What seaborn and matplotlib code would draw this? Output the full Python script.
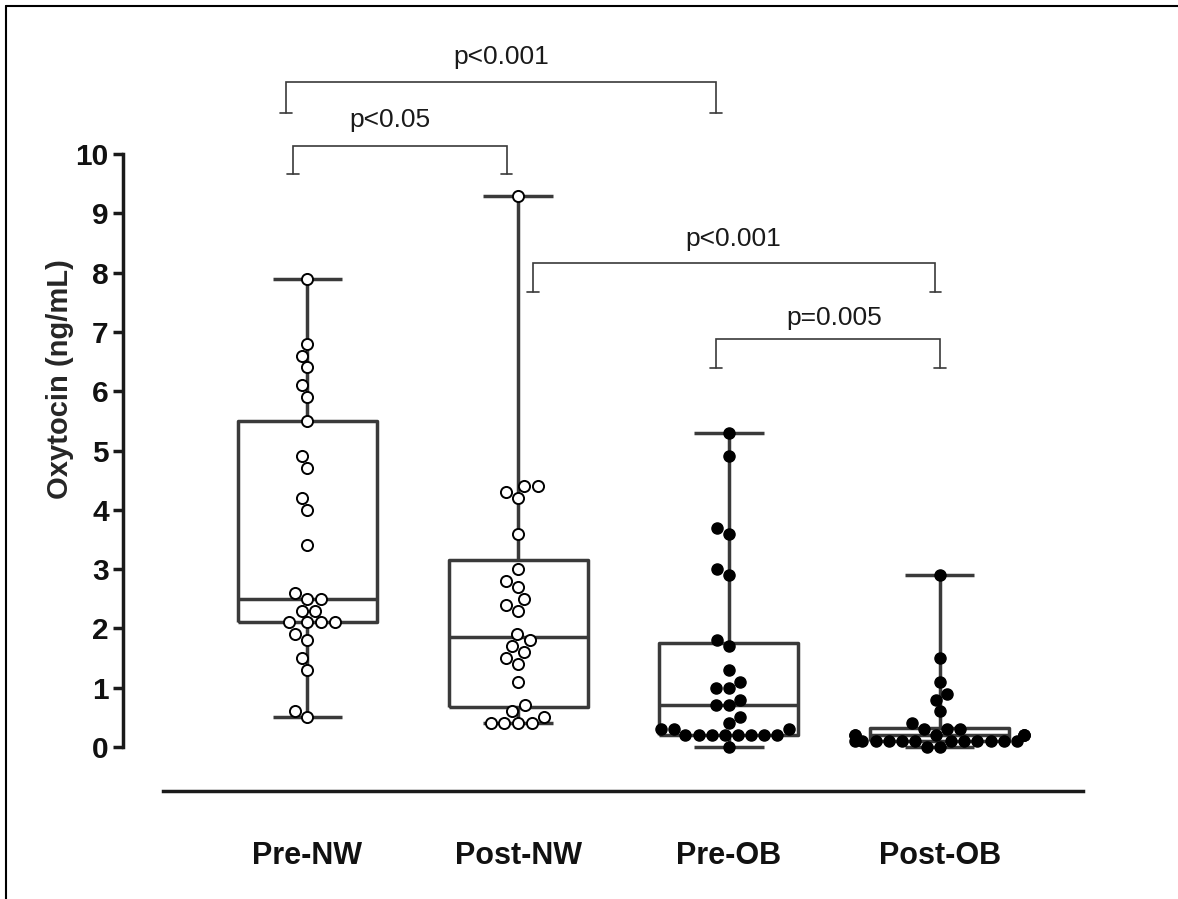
import numpy as np
import pandas as pd
import matplotlib
matplotlib.use("Agg")
import matplotlib.pyplot as plt
from matplotlib.lines import Line2D
import seaborn as sns

# Oxytocin (ng/mL) per subject, by group
groups = ["Pre-NW", "Post-NW", "Pre-OB", "Post-OB"]

pre_nw = [7.9, 6.8, 6.6, 6.4, 6.1, 5.9, 5.5, 4.9, 4.7, 4.2, 4.0, 3.4, 2.6, 2.5,
          2.5, 2.3, 2.3, 2.1, 2.1, 2.1, 2.1, 1.9, 1.8, 1.5, 1.3, 0.6, 0.5]
post_nw = [9.3, 4.4, 4.4, 4.3, 4.2, 3.6, 3.0, 2.8, 2.7, 2.5, 2.4, 2.3, 1.9,
           1.8, 1.7, 1.6, 1.5, 1.4, 1.1, 0.7, 0.6, 0.5, 0.4, 0.4, 0.4, 0.4]
pre_ob = [5.3, 4.9, 3.7, 3.6, 3.0, 2.9, 1.8, 1.7, 1.3, 1.1, 1.0, 1.0, 0.8,
          0.7, 0.7, 0.5, 0.4, 0.3, 0.3, 0.3, 0.2, 0.2, 0.2, 0.2, 0.2, 0.2,
          0.2, 0.2, 0.0]
post_ob = [2.9, 1.5, 1.1, 0.9, 0.8, 0.6, 0.4, 0.3, 0.3, 0.3, 0.2, 0.2, 0.2,
           0.2, 0.2, 0.2, 0.1, 0.1, 0.1, 0.1, 0.1, 0.1, 0.1, 0.1, 0.1, 0.1,
           0.1, 0.1, 0.0, 0.0]

open_groups = ["Pre-NW", "Post-NW"]
filled_groups = ["Pre-OB", "Post-OB"]

# Pairwise comparisons: (left group, right group, label)
comparisons = [
    ("Pre-NW", "Pre-OB", "p<0.001"),
    ("Pre-NW", "Post-NW", "p<0.05"),
    ("Post-NW", "Post-OB", "p<0.001"),
    ("Pre-OB", "Post-OB", "p=0.005"),
]
# Bracket layout: x offsets of the ends, bar height, foot height, label x/y
bracket_layout = [
    (-0.10, -0.06, 11.21, 10.69, 0.92, 11.52),
    (-0.07, -0.055, 10.13, 9.66, 0.39, 10.46),
    (0.07, -0.02, 8.17, 7.68, 2.02, 8.45),
    (-0.06, 0.0, 6.88, 6.39, 2.50, 7.11),
]

values = {"Pre-NW": pre_nw, "Post-NW": post_nw, "Pre-OB": pre_ob, "Post-OB": post_ob}
df = pd.DataFrame(
    [(g, v) for g in groups for v in values[g]], columns=["group", "value"]
)

sns.set_style("white")
plt.rcParams["font.family"] = ["Liberation Sans", "DejaVu Sans"]

fig = plt.figure(figsize=(11.78, 8.99), dpi=100)
ax = fig.add_axes([163 / 1178, 152 / 899, 920 / 1178, 12.4 * 59.3 / 899])

line_color = "#3a3a3a"

# Min-to-max box and whisker per group
stats = []
for g in groups:
    v = np.asarray(values[g])
    q1, med, q3 = np.percentile(v, [25, 50, 75], method="weibull")
    stats.append(dict(med=med, q1=q1, q3=q3, whislo=v.min(), whishi=v.max(),
                      fliers=[], label=g))
lp = dict(color=line_color, linewidth=2.5, solid_capstyle="butt")
bx = ax.bxp(stats, positions=range(len(groups)), widths=0.66, capwidths=0.33,
            showfliers=False, patch_artist=False,
            boxprops=lp, whiskerprops=lp, capprops=lp, medianprops=lp,
            manage_ticks=False)
for key in ("boxes", "whiskers", "caps", "medians"):
    for art in bx[key]:
        art.set_clip_on(False)
        art.set_zorder(2)

# Individual subjects
sns.swarmplot(data=df[df.group.isin(open_groups)], x="group", y="value",
              order=groups, color="white", edgecolor="black", linewidth=1.4,
              size=8, ax=ax, zorder=3)
sns.swarmplot(data=df[df.group.isin(filled_groups)], x="group", y="value",
              order=groups, color="black", edgecolor="black", linewidth=1.0,
              size=8, ax=ax, zorder=3)
for coll in ax.collections:
    coll.set_clip_on(False)

# Significance brackets
pos = {g: i for i, g in enumerate(groups)}
for (a, b, label), (dl, dr, ybar, yfoot, tx, ty) in zip(comparisons, bracket_layout):
    xl, xr = pos[a] + dl, pos[b] + dr
    ax.plot([xl, xl, xr, xr], [yfoot, ybar, ybar, yfoot], color=line_color,
            lw=1.2, clip_on=False, solid_joinstyle="miter")
    for xe in (xl, xr):
        ax.plot([xe - 0.028, xe + 0.028], [yfoot, yfoot], color=line_color,
                lw=1.2, clip_on=False)
    ax.text(tx, ty, label, ha="center", va="baseline", fontsize=19,
            color="#1a1a1a")

ax.set_xlim(-0.685, 3.68)
ax.set_ylim(0, 12.4)
ax.set_xticks(range(len(groups)))
ax.set_xticklabels(groups)
ax.set_yticks(range(11))
ax.set_yticklabels([str(i) for i in range(11)])
ax.set_xlabel("")
ax.set_ylabel("Oxytocin (ng/mL)", fontsize=21, fontweight="bold", labelpad=1)

for side in ("top", "right"):
    ax.spines[side].set_visible(False)
ax.spines["left"].set_position(("outward", 29))
ax.spines["left"].set_bounds(0, 10)
ax.spines["bottom"].set_position(("outward", 32))
for side in ("left", "bottom"):
    ax.spines[side].set_linewidth(2.5)
    ax.spines[side].set_color("#1a1a1a")
ax.tick_params(axis="y", length=7, width=2.5, color="#1a1a1a", pad=3,
               left=True, labelsize=21.5, labelcolor="#111111")
ax.tick_params(axis="x", length=0, pad=36, labelsize=22, labelcolor="#111111")
ax.grid(False)
ax.patch.set_alpha(0)

# Bold tick labels
fig.canvas.draw()
for t in ax.xaxis.get_major_ticks() + ax.yaxis.get_major_ticks():
    t.label1.set_fontweight("bold")

# Frame lines along the left and top edges
fig.add_artist(Line2D([6 / 1178, 6 / 1178], [0, 1 - 6 / 899], color="black",
                      lw=1.5, transform=fig.transFigure))
fig.add_artist(Line2D([6 / 1178, 1], [1 - 6 / 899, 1 - 6 / 899], color="black",
                      lw=1.5, transform=fig.transFigure))

fig.savefig("out.png", dpi=100)
